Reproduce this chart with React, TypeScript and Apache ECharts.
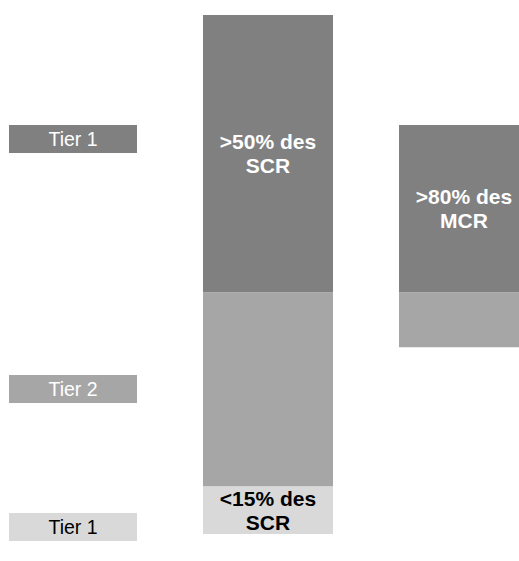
import React, { useEffect, useRef } from "react";
import * as echarts from "echarts";

// Stacked column data (units: percent of the SCR column height)
const categories = ["SCR", "MCR"];
const tier3Values = [9.2, 0];
const offsetValues = [0, 36];
const tier2Values = [37.4, 10.6];
const tier1Values = [53.4, 32.2];
const tier1Labels = [">50% des\nSCR", ">80% des\nMCR"];
const tier2Labels = ["", ""];
const tier3Labels = ["<15% des\nSCR", ""];

// Legend boxes on the left
const legendTexts = ["Tier 1", "Tier 2", "Tier 1"];
const legendColors = ["#808080", "#a6a6a6", "#d9d9d9"];
const legendTextColors = ["#ffffff", "#ffffff", "#000000"];

const FONT = "'Liberation Sans', Arial, Helvetica, sans-serif";

export default function App() {
  const ref = useRef<HTMLDivElement>(null);

  useEffect(() => {
    if (!ref.current) return;
    const chart = echarts.init(ref.current, undefined, { renderer: "svg" });

    const barLabel = (labels: string[], color: string) => ({
      show: true,
      position: "inside" as const,
      formatter: (p: any) => labels[p.dataIndex] || "",
      color,
      fontSize: 21,
      fontWeight: "bold" as const,
      fontFamily: FONT,
      lineHeight: 24,
    });

    const legendY = [125, 375, 513];

    chart.setOption({
      animation: false,
      backgroundColor: "#ffffff",
      grid: {
        left: 170,
        width: 392,
        top: 15,
        bottom: 27,
        containLabel: false,
        outerBoundsMode: "none",
      },
      xAxis: {
        type: "category",
        data: categories,
        show: false,
      },
      yAxis: {
        type: "value",
        min: 0,
        max: 100,
        show: false,
      },
      series: [
        {
          name: "Tier 3",
          type: "bar",
          stack: "total",
          barWidth: 130,
          data: tier3Values,
          itemStyle: { color: "#d9d9d9" },
          label: barLabel(tier3Labels, "#000000"),
        },
        {
          name: "offset",
          type: "bar",
          stack: "total",
          barWidth: 130,
          data: offsetValues,
          itemStyle: { color: "rgba(0,0,0,0)" },
          label: { show: false },
          silent: true,
        },
        {
          name: "Tier 2",
          type: "bar",
          stack: "total",
          barWidth: 130,
          data: tier2Values,
          itemStyle: { color: "#a6a6a6" },
          label: barLabel(tier2Labels, "#ffffff"),
        },
        {
          name: "Tier 1",
          type: "bar",
          stack: "total",
          barWidth: 130,
          data: tier1Values,
          itemStyle: { color: "#808080" },
          label: barLabel(tier1Labels, "#ffffff"),
        },
      ],
      graphic: legendTexts.map((t, i) => ({
        type: "rect",
        left: 9,
        top: legendY[i],
        shape: { width: 128, height: 28 },
        style: { fill: legendColors[i] },
        textContent: {
          type: "text",
          style: {
            text: t,
            fill: legendTextColors[i],
            fontSize: 19.5,
            fontFamily: FONT,
          },
        },
        textConfig: { position: "inside" },
      })),
    });

    return () => chart.dispose();
  }, []);

  return (
    <div
      ref={ref}
      style={{ position: "fixed", left: 0, top: 0, width: 519, height: 561 }}
    />
  );
}
